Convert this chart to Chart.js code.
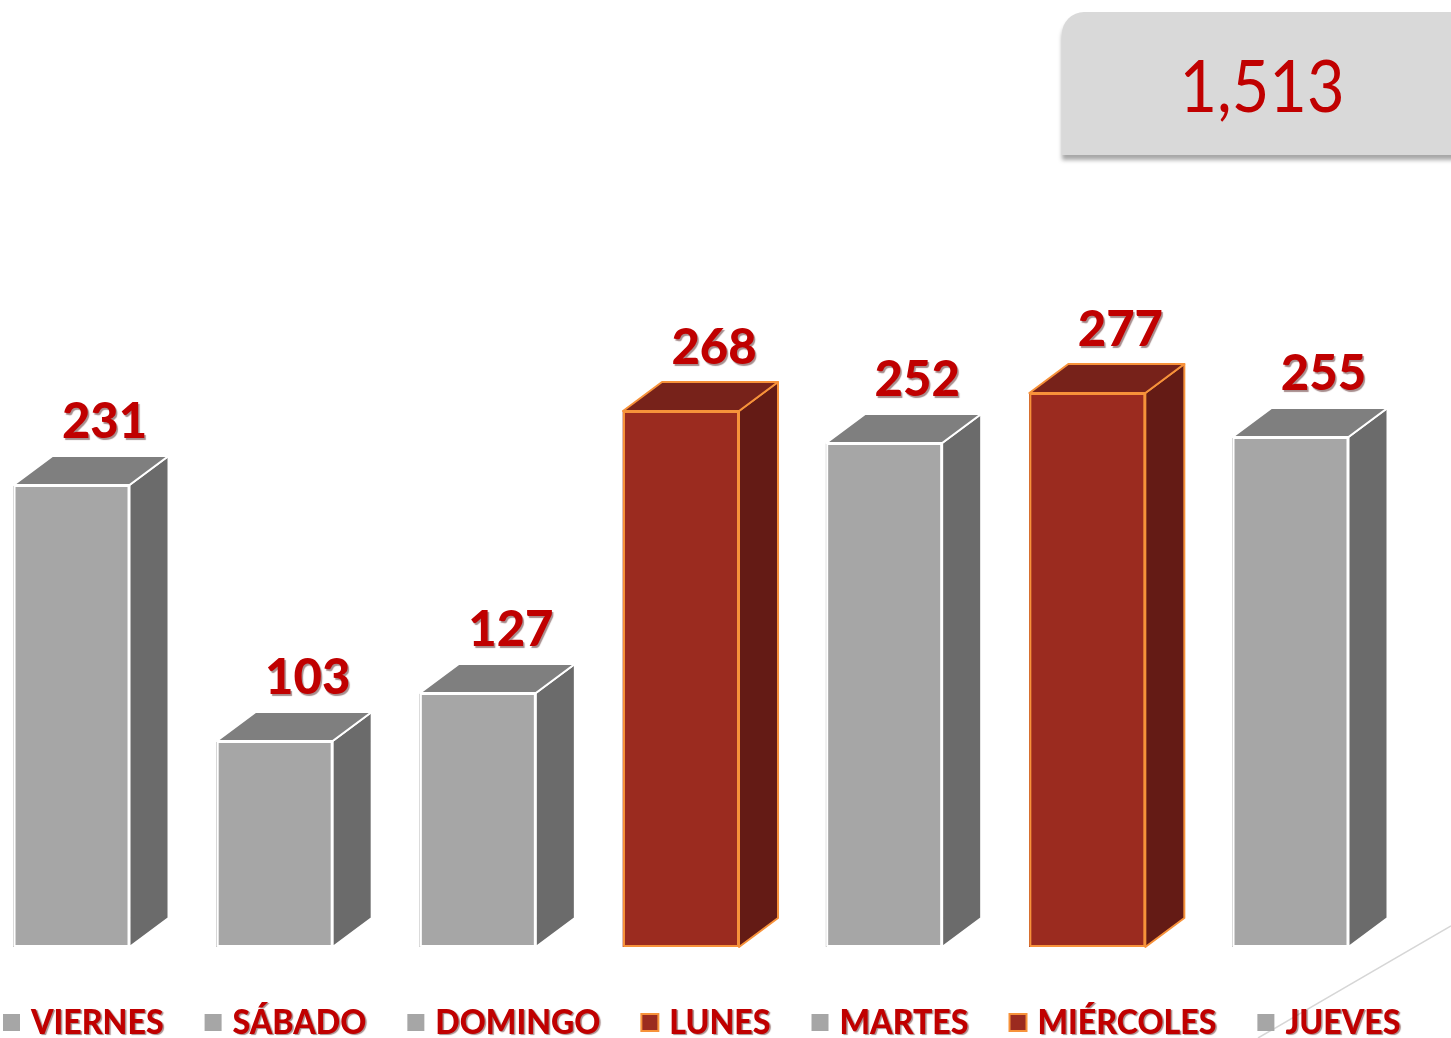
<!DOCTYPE html>
<html>
<head>
<meta charset="utf-8">
<script src="https://cdn.jsdelivr.net/npm/chart.js@4.4.1/dist/chart.umd.min.js"></script>
<style>
  html, body { margin: 0; padding: 0; background: #fff; overflow: hidden; }
  #wrap { position: relative; width: 1451px; height: 1038px; }
  #chart { position: absolute; left: 0; top: 0; }
  #deco { position: absolute; left: 0; top: 0; }
  #total {
    position: absolute; left: 1062px; top: 12px; width: 420px; height: 143px;
    background: #d9d9d9; border-top-left-radius: 22px;
    box-shadow: 0 5px 4px rgba(0,0,0,0.35);
    font-family: Lato, 'Open Sans', sans-serif;
    font-size: 72px; color: #c00000;
  }
  #total span {
    position: absolute; left: 200px; top: 36px; line-height: 1;
    transform: translateX(-50%) scaleX(0.9); white-space: nowrap;
  }
</style>
</head>
<body>
<div id="wrap">
  <svg id="deco" width="1451" height="1038"><line x1="1258" y1="1038" x2="1451" y2="926" stroke="#d6d6d6" stroke-width="1.5"/></svg>
  <canvas id="chart" width="1451" height="1038"></canvas>
  <div id="total"><span id="totalText"></span></div>
</div>
<script>
// dias y casos
const dias = ['VIERNES', 'SÁBADO', 'DOMINGO', 'LUNES', 'MARTES', 'MIÉRCOLES', 'JUEVES'];
const casos = [231, 103, 127, 268, 252, 277, 255];
const destacados = [false, false, false, true, false, true, false];

const frontGris = '#a6a6a6', topGris = '#7f7f7f', sideGris = '#6b6b6b', bordeGris = '#ffffff';
const frontRojo = '#9b2b1f', topRojo = '#77221a', sideRojo = '#641b15', bordeRojo = '#f7923a';
const rojoTexto = '#c00000';
const fuente = "Lato, 'Open Sans', sans-serif";

const total = casos.reduce((a, b) => a + b, 0);
document.getElementById('totalText').textContent = total.toLocaleString('en-US');

const depthX = 39, depthY = 29;

function sombra(ctx) {
  ctx.shadowColor = 'rgba(60,0,0,0.45)';
  ctx.shadowOffsetX = 1.5;
  ctx.shadowOffsetY = 1.5;
  ctx.shadowBlur = 1;
}

// caras 3D + etiquetas
const cubo3d = {
  id: 'cubo3d',
  afterDatasetsDraw(chart) {
    const ctx = chart.ctx;
    const meta = chart.getDatasetMeta(0);
    meta.data.forEach((bar, i) => {
      const left = bar.x - bar.width / 2, right = bar.x + bar.width / 2;
      const top = bar.y, base = bar.base;
      const rojo = destacados[i];
      ctx.save();
      ctx.lineJoin = 'round';
      ctx.lineWidth = 2;
      ctx.strokeStyle = rojo ? bordeRojo : bordeGris;
      // lado
      ctx.beginPath();
      ctx.moveTo(right, top);
      ctx.lineTo(right + depthX, top - depthY);
      ctx.lineTo(right + depthX, base - depthY);
      ctx.lineTo(right, base);
      ctx.closePath();
      ctx.fillStyle = rojo ? sideRojo : sideGris;
      ctx.fill();
      ctx.stroke();
      // tapa
      ctx.beginPath();
      ctx.moveTo(left, top);
      ctx.lineTo(left + depthX, top - depthY);
      ctx.lineTo(right + depthX, top - depthY);
      ctx.lineTo(right, top);
      ctx.closePath();
      ctx.fillStyle = rojo ? topRojo : topGris;
      ctx.fill();
      ctx.stroke();
      ctx.strokeRect(left + 1, top + 1, bar.width - 2, base - top - 2);
      // etiqueta
      ctx.font = '900 49px ' + fuente;
      ctx.fillStyle = rojoTexto;
      ctx.textAlign = 'center';
      ctx.textBaseline = 'alphabetic';
      sombra(ctx);
      ctx.fillText(String(casos[i]), bar.x + 33, top - depthY - 18);
      ctx.restore();
    });
  }
};

// leyenda abajo
const leyenda = {
  id: 'leyenda',
  afterDraw(chart) {
    const ctx = chart.ctx;
    const cy = 1022;
    const sx = 0.945;
    let x = 3;
    ctx.save();
    ctx.font = '900 34px ' + fuente;
    ctx.textBaseline = 'middle';
    dias.forEach((d, i) => {
      const rojo = destacados[i];
      ctx.fillStyle = rojo ? frontRojo : frontGris;
      ctx.fillRect(x, cy - 8, 17, 17);
      if (rojo) {
        ctx.strokeStyle = bordeRojo;
        ctx.lineWidth = 2;
        ctx.strokeRect(x, cy - 8, 17, 17);
      }
      x += 28;
      ctx.save();
      ctx.translate(x, cy + 1);
      ctx.scale(sx, 1);
      ctx.fillStyle = rojoTexto;
      sombra(ctx);
      ctx.fillText(d, 0, 0);
      ctx.restore();
      x += ctx.measureText(d).width * sx + 41;
    });
    ctx.restore();
  }
};

new Chart(document.getElementById('chart'), {
  type: 'bar',
  data: {
    datasets: [{
      data: casos.map((v, i) => ({ x: i, y: v })),
      backgroundColor: destacados.map(r => r ? frontRojo : frontGris),
      borderColor: destacados.map(r => r ? bordeRojo : bordeGris),
      borderWidth: 0,
      barThickness: 116
    }]
  },
  options: {
    responsive: false,
    animation: false,
    layout: { padding: { top: 47, bottom: 91, left: 0, right: 0 } },
    scales: {
      x: { type: 'linear', display: false, offset: false, min: -0.352, max: 6.79 },
      y: { display: false, min: 0, max: 450 }
    },
    plugins: {
      legend: { display: false },
      tooltip: { enabled: false }
    }
  },
  plugins: [cubo3d, leyenda]
});
</script>
</body>
</html>
